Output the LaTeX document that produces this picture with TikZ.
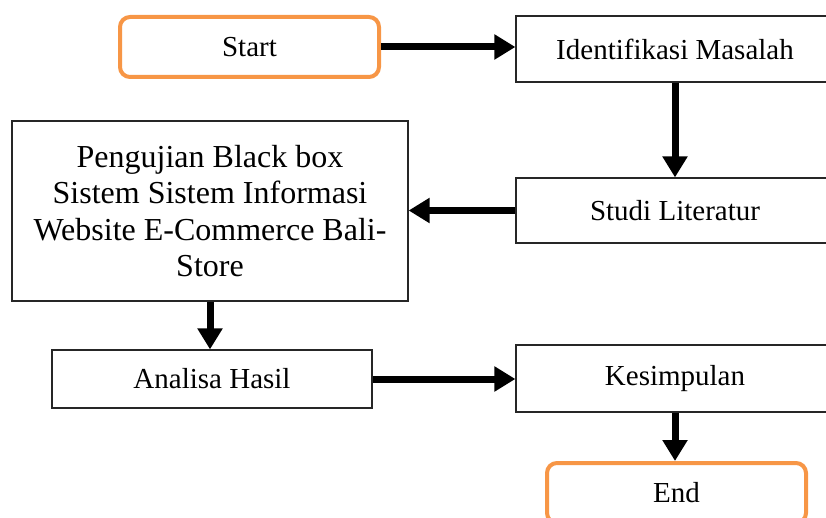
\documentclass[tikz,border=0pt]{standalone}
\usepackage{fontspec}
\setmainfont{Liberation Serif}
\usepackage{tikz}
\usetikzlibrary{arrows.meta,positioning}
\definecolor{termorange}{RGB}{247,150,70}

\tikzset{
  box/.style={draw=black!85, line width=1.2pt, fill=white, align=center,
    inner sep=0pt, font=\fontsize{29}{35}\selectfont},
  terminal/.style={box, draw=termorange, line width=4pt, rounded corners=10pt},
  flow/.style={line width=7pt, -{Triangle[length=21pt,width=24pt]}},
}

\begin{document}
\begin{tikzpicture}[x=1pt,y=-1pt]
	\useasboundingbox (0,0) rectangle (826,518);
	\node [terminal, minimum width=259pt, minimum height=60pt] (start) at (249.5,47) {Start};
	\node [box, minimum width=318pt, minimum height=66pt] (ident) at (675,49) {Identifikasi Masalah};
	\node [box, minimum width=318pt, minimum height=65pt] (studi) at (675,210.5) {Studi Literatur};
	\node [box, minimum width=396pt, minimum height=180pt, font=\fontsize{32}{36.5}\selectfont] (uji) at (210,211)
		{Pengujian Black box\\Sistem Sistem Informasi\\Website E-Commerce Bali-\\Store};
	\node [box, minimum width=320pt, minimum height=58pt] (analisa) at (212,379) {Analisa Hasil};
	\node [box, minimum width=318pt, minimum height=67pt] (simpul) at (675,378.5) {Kesimpulan};
	\node [terminal, minimum width=259pt, minimum height=60pt] (end) at (676.5,493) {End};
	%
	\draw [flow] (start.east) -- (start.east -| ident.west);
	\draw [flow] (ident.south) -- (studi.north);
	\draw [flow] (studi.west) -- (studi.west -| uji.east);
	\draw [flow] (uji.south) -- (uji.south |- analisa.north);
	\draw [flow] (analisa.east) -- (analisa.east -| simpul.west);
	\draw [flow] (simpul.south) -- (simpul.south |- end.north);
\end{tikzpicture}
\end{document}
